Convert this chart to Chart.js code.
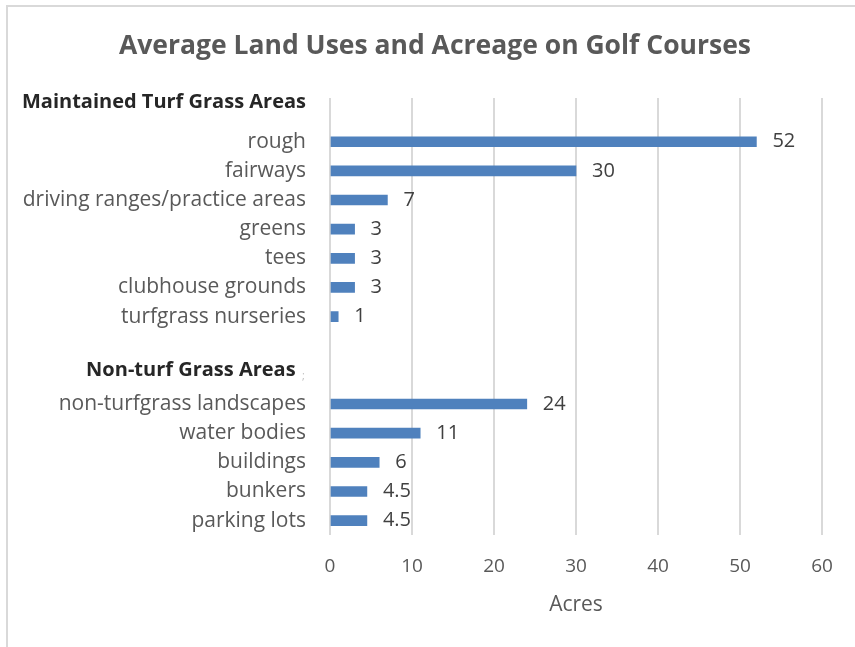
<!DOCTYPE html>
<html>
<head>
<meta charset="utf-8">
<script src="https://cdn.jsdelivr.net/npm/chart.js@4/dist/chart.umd.min.js"></script>
<style>
    body { margin: 0; background: #fff; }
    #wrap { position: relative; width: 855px; height: 647px; }
    #frame { position: absolute; left: 6px; top: 5px; width: 860px; height: 660px;
             border-left: 2px solid #d9d9d9; border-top: 2px solid #d9d9d9; }
    canvas { position: absolute; left: 0; top: 0; }
</style>
</head>
<body>
<div id="wrap">
    <div id="frame"></div>
    <canvas id="chartCanvas" width="855" height="647"></canvas>
</div>
<script>
const chartTitle = 'Average Land Uses and Acreage on Golf Courses';
const categories = [
    'Maintained Turf Grass Areas',
    'rough', 'fairways', 'driving ranges/practice areas', 'greens', 'tees',
    'clubhouse grounds', 'turfgrass nurseries',
    '',
    'Non-turf Grass Areas  ',
    'non-turfgrass landscapes', 'water bodies', 'buildings', 'bunkers', 'parking lots'
];
const acres = [null, 52, 30, 7, 3, 3, 3, 1, null, null, 24, 11, 6, 4.5, 4.5];
const headerRows = [0, 9];
const xTicks = [0, 10, 20, 30, 40, 50, 60];

const fontFamily = "'Open Sans', sans-serif";

// title (centred on the whole frame), value labels and the stray ';' after the second header
const extras = {
    id: 'extras',
    afterDatasetsDraw(chart) {
        const c = chart.ctx;
        c.save();
        c.textBaseline = 'middle';

        c.font = 'bold 26.5px ' + fontFamily;
        c.fillStyle = '#595959';
        c.textAlign = 'center';
        c.fillText(chartTitle, 435, 46);

        c.font = '20px ' + fontFamily;
        c.fillStyle = '#404040';
        c.textAlign = 'left';
        chart.getDatasetMeta(0).data.forEach((bar, i) => {
            if (acres[i] == null) return;
            c.fillText(String(acres[i]), bar.x + 16, bar.y);
        });

        const y = chart.scales.y;
        c.font = '11px ' + fontFamily;
        c.fillStyle = '#bfbfbf';
        c.fillText(';', y.right - 28, y.getPixelForValue(9) + 1);
        c.restore();
    }
};

const ctx = document.getElementById('chartCanvas').getContext('2d');
new Chart(ctx, {
    type: 'bar',
    data: {
        labels: categories.map((c, i) => headerRows.includes(i) ? [c, ''] : c),
        datasets: [{
            data: acres,
            backgroundColor: '#4f81bd',
            barThickness: 10
        }]
    },
    plugins: [extras],
    options: {
        indexAxis: 'y',
        responsive: false,
        animation: false,
        layout: { padding: { left: 0, right: 33, top: 98, bottom: 31 } },
        plugins: {
            legend: { display: false },
            tooltip: { enabled: false },
            title: { display: false }
        },
        scales: {
            x: {
                min: 0,
                max: 60,
                afterBuildTicks: (scale) => { scale.ticks = xTicks.map(v => ({ value: v })); },
                grid: { color: '#d9d9d9', lineWidth: 2, drawTicks: false },
                border: { display: false },
                ticks: {
                    color: '#595959',
                    padding: 20,
                    font: { family: fontFamily, size: 19 }
                },
                title: {
                    display: true,
                    text: 'Acres',
                    color: '#595959',
                    font: { family: fontFamily, size: 21, lineHeight: 1 },
                    padding: { top: -3, bottom: 0 }
                }
            },
            y: {
                grid: { display: false, drawTicks: false },
                border: { display: false },
                afterFit: (scale) => { scale.width = 330; },
                ticks: {
                    color: (c) => headerRows.includes(c.index) ? '#262626' : '#595959',
                    padding: 24,
                    autoSkip: false,
                    font: (c) => headerRows.includes(c.index)
                        ? { family: fontFamily, size: 20, weight: 'bold', lineHeight: c.index === 0 ? '20px' : '10px' }
                        : { family: fontFamily, size: 21 }
                }
            }
        }
    }
});
</script>
</body>
</html>
